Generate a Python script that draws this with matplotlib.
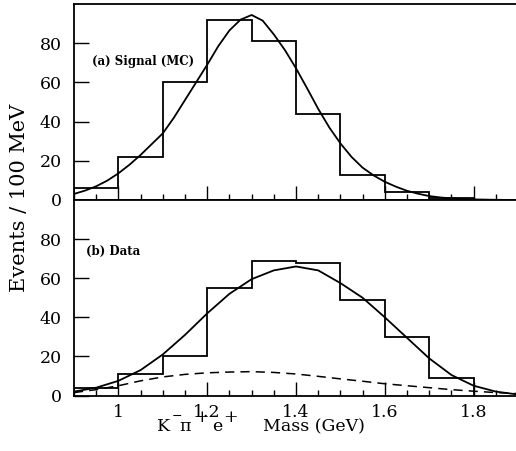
import numpy as np
import matplotlib
matplotlib.use("Agg")
import matplotlib.pyplot as plt
from matplotlib.ticker import MultipleLocator

plt.rcParams['font.family'] = ['DejaVu Serif']
plt.rcParams['mathtext.fontset'] = 'dejavuserif'

# Histogram bin edges (GeV)
bin_edges = [0.9, 1.0, 1.1, 1.2, 1.3, 1.4, 1.5, 1.6, 1.7, 1.8]

# (a) Signal (MC) histogram counts
signal_counts = [6, 22, 60, 92, 81, 44, 13, 4, 1]
# (b) Data histogram counts
data_counts = [4, 11, 20, 55, 69, 68, 49, 30, 9]

# Fit curves
signal_fit_x = [0.900, 0.925, 0.950, 0.975, 1.000, 1.025, 1.050, 1.075, 1.100,
                1.125, 1.150, 1.175, 1.200, 1.225, 1.250, 1.275, 1.300, 1.325,
                1.350, 1.375, 1.400, 1.425, 1.450, 1.475, 1.500, 1.525, 1.550,
                1.575, 1.600, 1.625, 1.650, 1.675, 1.700, 1.725, 1.750, 1.775,
                1.800, 1.825, 1.850, 1.875, 1.900]
signal_fit = [3.1, 4.8, 7.0, 9.9, 13.6, 18.0, 23.0, 28.5, 34.0,
              42.0, 51.0, 60.0, 69.0, 78.5, 86.5, 92.0, 94.4, 91.5,
              84.5, 76.5, 67.2, 57.0, 46.5, 37.0, 28.9, 22.0, 16.5,
              12.5, 9.3, 6.8, 4.7, 3.2, 2.0, 1.3, 0.8, 0.5,
              0.3, 0.2, 0.1, 0.05, 0.0]

data_fit_x = [0.90, 0.95, 1.00, 1.05, 1.10, 1.15, 1.20, 1.25, 1.30, 1.35, 1.40,
              1.45, 1.50, 1.55, 1.60, 1.65, 1.70, 1.75, 1.80, 1.85, 1.90]
data_fit = [2.0, 4.0, 7.5, 13.0, 21.0, 31.0, 42.0, 52.0, 59.5, 64.0, 66.0,
            64.0, 57.5, 50.0, 40.0, 29.5, 19.0, 10.5, 5.0, 2.0, 0.5]
background_fit = [1.5, 3.0, 5.0, 7.5, 9.5, 10.8, 11.6, 12.0, 12.2, 11.8, 11.0,
                  9.8, 8.5, 7.3, 6.0, 5.0, 4.0, 3.0, 2.2, 1.5, 1.0]

y_ticks = [0, 20, 40, 60, 80]
x_ticks = [1.0, 1.2, 1.4, 1.6, 1.8]
x_ticklabels = ["1", "1.2", "1.4", "1.6", "1.8"]

W, H = 516, 451
fig = plt.figure(figsize=(W / 100, H / 100), dpi=100)
left = 74 / W
right = 518 / W
ax_top = fig.add_axes([left, 1 - 200 / H, right - left, (200 - 4) / H])
ax_bot = fig.add_axes([left, 1 - 395.5 / H, right - left, (395.5 - 200) / H])

lw = 1.3
for ax in (ax_top, ax_bot):
    ax.set_xlim(0.9, 1.9)
    ax.set_ylim(0, 100)
    ax.set_yticks(y_ticks)
    ax.set_xticks(x_ticks)
    ax.xaxis.set_minor_locator(MultipleLocator(0.05))
    ax.tick_params(axis='both', which='major', direction='in', length=10,
                   width=1.0, labelsize=12.5, top=False, right=False)
    ax.tick_params(axis='x', which='minor', direction='in', length=4.5,
                   width=1.0, top=False)
    ax.tick_params(axis='y', which='major', pad=9, length=11)
    ax.tick_params(axis='x', which='major', pad=6)
    for s in ax.spines.values():
        s.set_linewidth(1.3)

ax_top.tick_params(axis='x', labelbottom=False)
ax_bot.set_xticklabels(x_ticklabels)

# Top panel
ax_top.stairs(signal_counts, bin_edges, color='black', linewidth=lw)
ax_top.plot(signal_fit_x, signal_fit, color='black', linewidth=lw)
ax_top.text(0.941, 70.6, "(a) Signal (MC)", fontsize=8.5, fontweight='bold',
            va='center', ha='left')

# Bottom panel
ax_bot.stairs(data_counts, bin_edges, color='black', linewidth=lw)
ax_bot.plot(data_fit_x, data_fit, color='black', linewidth=lw)
ax_bot.plot(data_fit_x, background_fit, color='black', linewidth=1.1,
            linestyle=(0, (6, 4)))
ax_bot.text(0.927, 73.5, "(b) Data", fontsize=8.5, fontweight='bold',
            va='center', ha='left')


# x-axis label, built from pieces (pixel positions)
def ptext(x_px, y_px, s, size):
    fig.text(x_px / W, 1 - y_px / H, s, fontsize=size, ha='left',
             va='baseline')


ptext(157, 431, "K", 12.5)
ptext(172, 420, "\u2212", 9)
ptext(179, 431, "\u03c0", 12.5)
ptext(194, 421.5, "+", 12.5)
ptext(212, 431, "e", 12.5)
ptext(223, 421.5, "+", 12.5)
ptext(263, 431, "Mass (GeV)", 12.5)

fig.text(20 / W, 1 - 198 / H, "Events / 100 MeV", rotation=90, fontsize=15,
         ha='center', va='center')

fig.savefig("out.png", dpi=100)
